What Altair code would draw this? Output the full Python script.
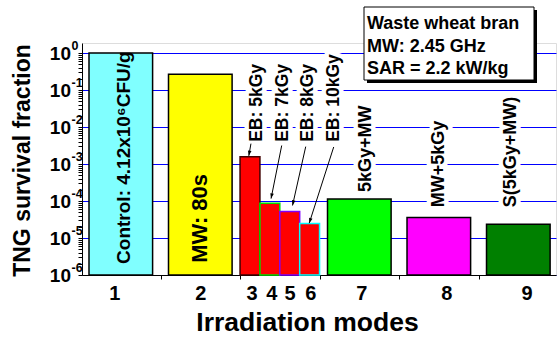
import math
import altair as alt
import pandas as pd

# ---------------- data ----------------
modes = ["1", "2", "3", "4", "5", "6", "7", "8", "9"]
bar_start = [0.6, 1.6, 2.5, 2.75, 3.0, 3.25, 3.6, 4.6, 5.6]
bar_end = [1.4, 2.4, 2.75, 3.0, 3.25, 3.5, 4.4, 5.4, 6.4]
survival = [1.0, 0.267, 1.56e-3, 8.7e-5, 5.2e-5, 2.45e-5, 1.14e-4, 3.6e-5, 2.36e-5]
fill_colors = ["#80ffff", "#ffff00", "#ff0000", "#ff0000", "#ff0000", "#ff0000",
               "#00ff00", "#ff00ff", "#008000"]
edge_colors = ["#000000", "#000000", "#400000", "#00e000", "#8000ff", "#00ffff",
               "#000000", "#000000", "#000000"]

tick_label_pos = [0.925, 2.008, 2.65, 2.90, 3.13, 3.39, 4.03, 5.10, 6.11]
x_tick_vals = [1.5, 2.5, 3.5, 4.5, 5.5]

decades = [1, 1e-1, 1e-2, 1e-3, 1e-4, 1e-5, 1e-6]
exponents = ["0", "-1", "-2", "-3", "-4", "-5", "-6"]

inbar_text = ["Control: 4.12x10\u2076CFU/g", "MW: 80s"]
inbar_x = [1.04, 2.0]
inbar_logy = [-5.70, -5.67]
inbar_size = [19, 22]

top_text = ["5kGy+MW", "MW+5kGy", "S(5kGy+MW)",
            "EB: 5kGy", "EB: 7kGy", "EB: 8kGy", "EB: 10kGy"]
top_x = [4.09, 5.0, 5.91, 2.713, 3.040, 3.355, 3.682]
top_logy = [-3.76, -4.17, -4.17, -2.40, -2.40, -2.40, -2.40]
top_size = [18, 18, 18, 17.5, 17.5, 17.5, 17.5]

arrow_x1 = [2.637, 3.024, 3.326, 3.678]
arrow_logy1 = [-2.45, -2.50, -2.53, -2.54]
arrow_x2 = [2.61, 2.89, 3.16, 3.37]
arrow_logy2 = [-2.78, -3.935, -4.12, -4.60]

legend_lines = ["Waste wheat bran", "MW: 2.45 GHz", "SAR = 2.2 kW/kg"]

# ---------------- layout ----------------
W, H = 474, 232
X_DOM = [0.512, 6.474]
Y_DOM = [1e-6, 10 ** (10 / 37)]
PX_X = W / (X_DOM[1] - X_DOM[0])
PX_Y = H / (math.log10(Y_DOM[1]) - math.log10(Y_DOM[0]))
FONT = "Liberation Sans"

xscale = alt.Scale(domain=X_DOM, nice=False, zero=False)
yscale = alt.Scale(type="log", domain=Y_DOM, nice=False)

minor_vals = [m * 10 ** e for e in range(-6, 1) for m in range(1, 10)
              if m * 10 ** e <= Y_DOM[1] * 1.0001]
is_dec = "abs(log(datum.value)/LN10 - round(log(datum.value)/LN10)) < 0.001"

xaxis = alt.Axis(values=x_tick_vals, labels=False, grid=False, tickSize=4,
                 tickColor="black", domainColor="black",
                 title="Irradiation modes", titleFont=FONT,
                 titleFontSize=26.5, titleFontWeight="bold", titleColor="black",
                 titleX=225, titleY=55, titleBaseline="alphabetic",
                 titleAlign="center")
yaxis = alt.Axis(values=minor_vals, labelExpr=f"({is_dec}) ? '10' : ''",
                 labelFont=FONT, labelFontSize=19, labelFontWeight="bold",
                 labelColor="black", labelPadding=7.5, labelOverlap=False,
                 labelFlush=False,
                 tickColor="black", tickSize=4,
                 domainColor="black",
                 gridColor="#0000ff", gridWidth=1,
                 gridOpacity={"condition": {"test": is_dec, "value": 1}, "value": 0},
                 title="TNG survival fraction", titleFont=FONT,
                 titleFontSize=23, titleFontWeight="bold", titleColor="black",
                 titleAngle=270, titleX=-60, titleY=117,
                 titleAlign="center", titleBaseline="middle")


def X(f):
    return alt.X(f, scale=xscale, axis=xaxis, title="Irradiation modes")


def Y(f):
    return alt.Y(f, scale=yscale, axis=yaxis, title="TNG survival fraction")


bars_df = pd.DataFrame({"mode": modes, "x0": bar_start, "x1": bar_end,
                        "val": survival, "fill": fill_colors, "edge": edge_colors})

bars = alt.Chart(bars_df).mark_rect(strokeWidth=1.5).encode(
    x=X("x0:Q"),
    x2="x1:Q",
    y=Y("val:Q"),
    y2=alt.value(H),
    fill=alt.Fill("fill:N", scale=None),
    stroke=alt.Stroke("edge:N", scale=None),
)

exp_df = pd.DataFrame({"v": decades, "e": exponents})
exps = alt.Chart(exp_df).mark_text(align="left", baseline="middle", dy=-7,
                                   font=FONT, fontSize=12.5, fontWeight="bold",
                                   color="black").encode(
    x=alt.value(-10.5),
    y=Y("v:Q"),
    text="e:N",
)

xl_df = pd.DataFrame({"p": tick_label_pos, "t": modes})
xlabels = alt.Chart(xl_df).mark_text(align="center", baseline="alphabetic",
                                     font=FONT, fontSize=20, fontWeight="bold",
                                     color="black").encode(
    x=X("p:Q"),
    y=alt.value(H + 25),
    text="t:N",
)

ib_df = pd.DataFrame({"x": inbar_x, "y": [10 ** v for v in inbar_logy],
                      "t": inbar_text, "s": inbar_size})
ibtext = alt.Chart(ib_df).mark_text(angle=270, align="left", baseline="middle",
                                    font=FONT, fontWeight="bold",
                                    color="black").encode(
    x=X("x:Q"),
    y=Y("y:Q"),
    text="t:N",
    size=alt.Size("s:Q", scale=None),
)

tp_df = pd.DataFrame({"x": top_x, "y": [10 ** v for v in top_logy],
                      "t": top_text, "s": top_size})
tp_halo = alt.Chart(tp_df).mark_text(angle=270, align="left", baseline="middle",
                                     font=FONT, fontWeight="bold",
                                     fill="white", stroke="white", strokeWidth=9,
                                     strokeJoin="round").encode(
    x=X("x:Q"),
    y=Y("y:Q"),
    text="t:N",
    size=alt.Size("s:Q", scale=None),
)
tptext = alt.Chart(tp_df).mark_text(angle=270, align="left", baseline="middle",
                                    font=FONT, fontWeight="bold",
                                    color="black").encode(
    x=X("x:Q"),
    y=Y("y:Q"),
    text="t:N",
    size=alt.Size("s:Q", scale=None),
)

angles = []
for a, b, c, d in zip(arrow_x1, arrow_logy1, arrow_x2, arrow_logy2):
    dx = (c - a) * PX_X
    dy = (b - d) * PX_Y
    angles.append(math.degrees(math.atan2(-dx, dy)) % 360)

ar_df = pd.DataFrame({"x1": arrow_x1, "y1": [10 ** v for v in arrow_logy1],
                      "x2": arrow_x2, "y2": [10 ** v for v in arrow_logy2],
                      "ang": angles})
arrow_lines = alt.Chart(ar_df).mark_rule(color="black", strokeWidth=1).encode(
    x=X("x1:Q"),
    y=Y("y1:Q"),
    x2="x2:Q", y2="y2:Q",
)
arrow_heads = alt.Chart(ar_df).mark_point(
    shape="M0,0L-0.45,-1.3L0.45,-1.3Z", filled=True, color="black",
    size=64, opacity=1).encode(
    x=X("x2:Q"),
    y=Y("y2:Q"),
    angle=alt.Angle("ang:Q", scale=None),
)

leg_df = pd.DataFrame({"k": [0]})
shadow = alt.Chart(leg_df).mark_rect(color="black").encode(
    x=alt.value(285), x2=alt.value(455), y=alt.value(-33), y2=alt.value(40))
box = alt.Chart(leg_df).mark_rect(fill="white", stroke="black", strokeWidth=1).encode(
    x=alt.value(282), x2=alt.value(452), y=alt.value(-36), y2=alt.value(37))
legtext = alt.Chart(leg_df).mark_text(align="left", baseline="alphabetic", lineHeight=22.5,
                                      font=FONT, fontSize=18, fontWeight="bold",
                                      color="black").encode(
    x=alt.value(285), y=alt.value(-14), text=alt.value(legend_lines))

chart = alt.layer(
    bars, exps, xlabels, ibtext, tp_halo, tptext, arrow_lines, arrow_heads,
    shadow, box, legtext
).properties(
    width=W, height=H,
    autosize=alt.AutoSizeParams(type="none"),
    padding={"left": 82, "top": 43, "right": 2, "bottom": 63},
).configure_view(
    stroke="#808080", strokeWidth=1
).configure(background="white")

chart.save("out.html", embed_options={"renderer": "svg", "actions": False})
